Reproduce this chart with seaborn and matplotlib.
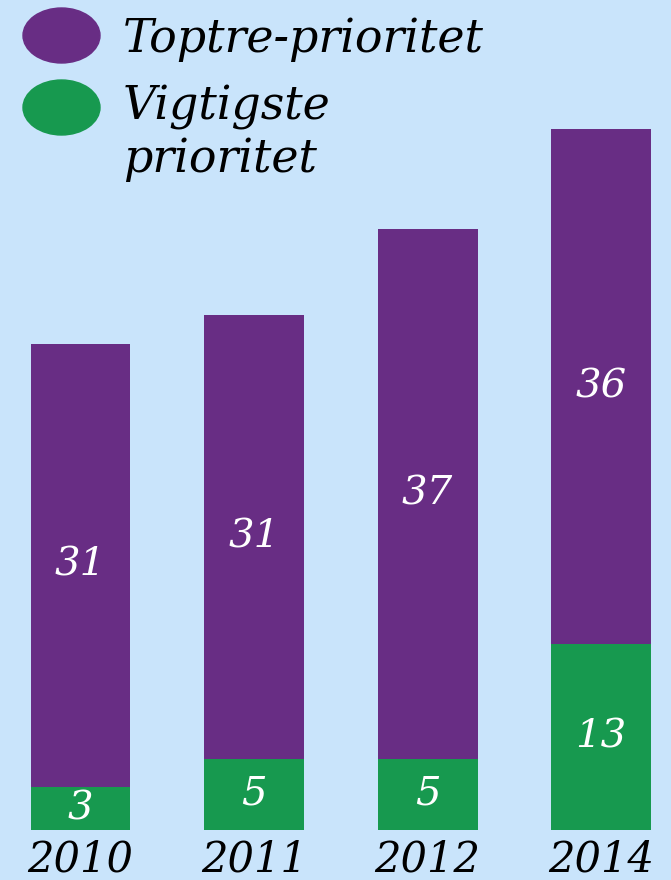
import matplotlib
matplotlib.use("Agg")
import matplotlib.pyplot as plt
import seaborn as sns
import pandas as pd
from matplotlib.patches import Ellipse

years = ["2010", "2011", "2012", "2014"]
top3 = [31, 31, 37, 36]        # Toptre-prioritet (purple part)
most = [3, 5, 5, 13]           # Vigtigste prioritet (green part)

BG = "#c9e4fb"
PURPLE = "#682d84"
GREEN = "#17994f"
FONT = "DejaVu Serif"

sns.set_theme(style="white")
plt.rcParams["font.family"] = [FONT]

df = pd.DataFrame({"year": years, "top3": top3, "most": most})
df["total"] = df["top3"] + df["most"]

fig = plt.figure(figsize=(6.71, 8.8), dpi=100, facecolor=BG)
ax = fig.add_axes([0, 0, 1, 1])
ax.set_facecolor(BG)

sns.barplot(data=df, x="year", y="total", color=PURPLE, width=0.576,
            saturation=1, ax=ax, edgecolor="none")
sns.barplot(data=df, x="year", y="most", color=GREEN, width=0.576,
            saturation=1, ax=ax, edgecolor="none")

ax.set_xlim(-0.464, 3.403)
scale = 14.3
ax.set_ylim(-50 / scale, 830 / scale)
for s in ax.spines.values():
    s.set_visible(False)
ax.set_xticks([])
ax.set_yticks([])
ax.set_xlabel("")
ax.set_ylabel("")

for i, (g, p) in enumerate(zip(most, top3)):
    ax.text(i, g / 2, str(g), ha="center", va="center", color="white",
            fontsize=29, style="italic", family=FONT)
    ax.text(i, g + p / 2, str(p), ha="center", va="center", color="white",
            fontsize=29, style="italic", family=FONT)
    ax.text(i, -2.05, years[i], ha="center", va="center", color="black",
            fontsize=30, style="italic", family=FONT)

# legend
fig.add_artist(Ellipse((0.615, 8.445), 0.77, 0.55, color=PURPLE,
                       transform=fig.dpi_scale_trans))
fig.add_artist(Ellipse((0.615, 7.725), 0.77, 0.55, color=GREEN,
                       transform=fig.dpi_scale_trans))
fig.text(123 / 671, 1 - 52 / 880, "Toptre-prioritet", fontsize=33,
         style="italic", family=FONT, color="black", va="baseline")
fig.text(123 / 671, 1 - 120 / 880, "Vigtigste", fontsize=33,
         style="italic", family=FONT, color="black", va="baseline")
fig.text(123 / 671, 1 - 172 / 880, "prioritet", fontsize=33,
         style="italic", family=FONT, color="black", va="baseline")

fig.savefig("out.png", dpi=100, facecolor=BG)
